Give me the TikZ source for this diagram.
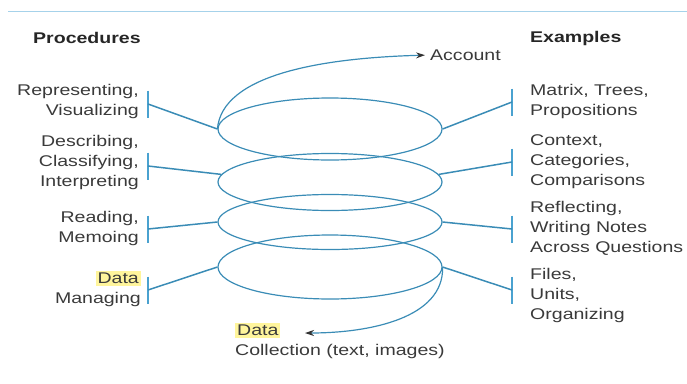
\documentclass[tikz,border=0pt]{standalone}
\usepackage{fontspec}
\setmainfont{Liberation Sans}[FakeStretch=1.26]
\usetikzlibrary{shapes.geometric,arrows.meta}
\definecolor{ln}{HTML}{3A8CB6}
\definecolor{barc}{HTML}{4AA2D0}
\definecolor{topl}{HTML}{A6D2EA}
\definecolor{txt}{HTML}{3A3A3A}
\definecolor{hl}{HTML}{FFF59C}
\tikzset{
 lab/.style={font=\fontsize{15.5}{20}\selectfont, text=txt, inner sep=0pt},
 head/.style={inner sep=0pt, font=\fontsize{15.5}{20}\selectfont\bfseries, text=black!85},
 loopell/.style={draw=ln, ellipse, minimum width=224pt, minimum height=62pt, inner sep=0pt, line width=1.2pt},
 barline/.style={draw=barc, line width=2.5pt},
 conn/.style={draw=ln, line width=1.5pt},
 curv/.style={draw=ln, line width=1.2pt, -{Stealth[length=9pt,width=6pt,color=black!80]}},
 topline/.style={draw=topl, line width=0.9pt},
}
\newcommand{\hlbox}[1]{{\setlength{\fboxsep}{2pt}\colorbox{hl}{#1}}}
\begin{document}
\begin{tikzpicture}[x=1pt,y=-1pt]
\useasboundingbox (0,0) rectangle (687,383);
\coordinate (tl) at (8,11);
\coordinate (tr) at (687,11);
\draw[topline] (tl) -- (tr);

\node[head, anchor=west] (hp) at (33,38) {Procedures};
\node[head, anchor=west] (he) at (530,38) {Examples};

% loops
\node[loopell] (e1) at (330,129) {};
\node[loopell, minimum height=57pt] (e2) at (330,182) {};
\node[loopell, minimum height=55pt] (e3) at (330,222) {};
\node[loopell, minimum height=64pt] (e4) at (330,267) {};

% left labels
\node[lab, anchor=east, align=right] (p1) at (139,101) {Representing,\\Visualizing};
\node[lab, anchor=east, align=right] (p2) at (139,162) {Describing,\\Classifying,\\Interpreting};
\node[lab, anchor=east, align=right] (p3) at (139,228) {Reading,\\Memoing};
\node[lab, anchor=east, align=right] (p4) at (141,289) {\hlbox{Data}\\Managing};

% right labels
\node[lab, anchor=west, align=left] (x1) at (530,101) {Matrix, Trees,\\Propositions};
\node[lab, anchor=west, align=left] (x2) at (530,162) {Context,\\Categories,\\Comparisons};
\node[lab, anchor=west, align=left] (x3) at (530,228) {Reflecting,\\Writing Notes\\Across Questions};
\node[lab, anchor=west, align=left] (x4) at (530,295) {Files,\\Units,\\Organizing};

% bars
\coordinate (b1) at (148,104);
\coordinate (b2) at (148,166);
\coordinate (b3) at (148,229);
\coordinate (b4) at (148,290);
\coordinate (c1) at (512,102);
\coordinate (c2) at (512,162);
\coordinate (c3) at (512,229);
\coordinate (c4) at (512,290);
\foreach \b in {b1,b2,b3,b4,c1,c2,c3,c4}{
  \draw[barline] ([yshift=13.5pt]\b) -- ([yshift=-13.5pt]\b);
}

% connectors
\draw[conn] (b1) -- (e1.west);
\draw[conn] (b2) -- (e2.176);
\draw[conn] (b3) -- (e3.west);
\draw[conn] (b4) -- (e4.west);
\draw[conn] (c1) -- (e1.east);
\draw[conn] (c2) -- (e2.4);
\draw[conn] (c3) -- (e3.east);
\draw[conn] (c4) -- (e4.east);

% account arrow
\node[lab, anchor=west] (acc) at (430,55) {Account};
\draw[curv, shorten >=5pt] (e1.west) .. controls (222,75) and (320,58) .. (acc.west);

% data collection
\node[lab, anchor=north west, align=left] (dc) at (235,323) {\hlbox{Data}\\Collection (text, images)};
\coordinate (dtip) at (305,333);
\draw[curv] (e4.east) .. controls (444,318) and (370,333) .. (dtip);
\end{tikzpicture}
\end{document}
